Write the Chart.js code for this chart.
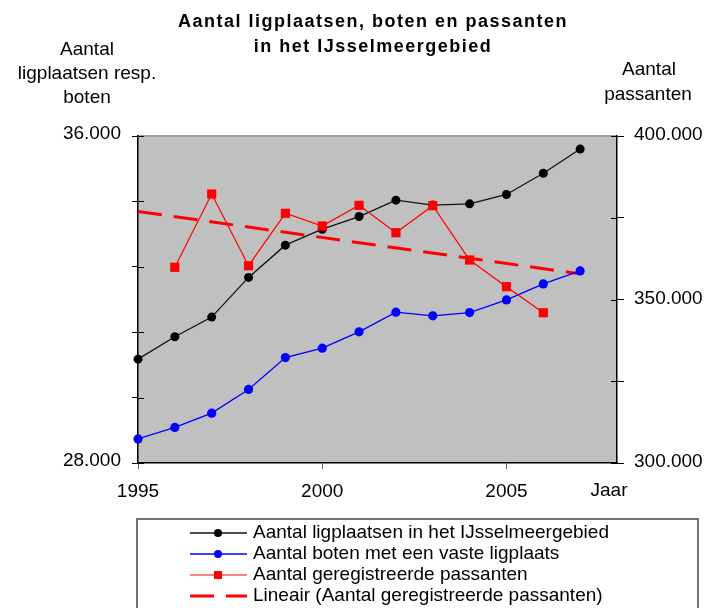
<!DOCTYPE html>
<html lang="nl">
<head>
<meta charset="utf-8">
<title>Aantal ligplaatsen, boten en passanten in het IJsselmeergebied</title>
<script src="https://cdn.jsdelivr.net/npm/chart.js@4.4.1/dist/chart.umd.min.js"></script>
<style>
  html, body { margin: 0; padding: 0; background: #fff; }
  canvas { display: block; }
</style>
</head>
<body>
<canvas id="chart" width="707" height="608"></canvas>
<script>
/* ─── Data ─── */
const years = [1995, 1996, 1997, 1998, 1999, 2000, 2001, 2002, 2003, 2004, 2005, 2006, 2007];
const ligplaatsen = [30540, 31090, 31570, 32540, 33330, 33720, 34030, 34430, 34310, 34340, 34570, 35090, 35680];
const boten = [28590, 28870, 29220, 29800, 30580, 30810, 31210, 31690, 31600, 31680, 31990, 32380, 32700];
const passantYears = [1996, 1997, 1998, 1999, 2000, 2001, 2002, 2003, 2004, 2005, 2006];
const passanten = [359850, 382260, 360340, 376360, 372480, 378800, 370430, 378690, 362080, 353920, 345960];
const trendYears = [1995, 2007];

const yearTicks = [1995, 2000, 2005];
const leftLabels = [28000, 36000];
const rightLabels = [300000, 350000, 400000];

const seriesNames = [
  'Aantal ligplaatsen in het IJsselmeergebied',
  'Aantal boten met een vaste ligplaats',
  'Aantal geregistreerde passanten',
  'Lineair (Aantal geregistreerde passanten)',
];

/* ─── Helpers ─── */
const FONT = "'Liberation Sans', Arial, sans-serif";

function dotted(v) {
  return String(Math.round(v)).replace(/\B(?=(\d{3})+(?!\d))/g, '.');
}

function pairs(xs, ys) {
  return xs.map((x, i) => ({ x, y: ys[i] }));
}

// least squares line through the passanten series, evaluated at the given years
function linearTrend(xs, ys, at) {
  const n = xs.length;
  const mx = xs.reduce((a, b) => a + b, 0) / n;
  const my = ys.reduce((a, b) => a + b, 0) / n;
  let sxy = 0, sxx = 0;
  xs.forEach((x, i) => {
    sxy += (x - mx) * (ys[i] - my);
    sxx += (x - mx) * (x - mx);
  });
  const slope = sxy / sxx;
  return at.map(x => ({ x, y: my + slope * (x - mx) }));
}

/* ─── Plot background + top border ─── */
const plotBackground = {
  id: 'plotBackground',
  beforeDraw(chart) {
    const { ctx, chartArea: a } = chart;
    ctx.save();
    ctx.fillStyle = '#fff';
    ctx.fillRect(0, 0, chart.width, chart.height);
    ctx.fillStyle = '#c0c0c0';
    ctx.fillRect(a.left, a.top, a.right - a.left, a.bottom - a.top);
    ctx.strokeStyle = '#a0a0a0';
    ctx.lineWidth = 2;
    ctx.beginPath();
    ctx.moveTo(a.left, a.top);
    ctx.lineTo(a.right, a.top);
    ctx.stroke();
    ctx.restore();
  },
};

/* ─── Titles, inner tick halves, legend box ─── */
const decorations = {
  id: 'decorations',
  afterDraw(chart) {
    const { ctx, chartArea: a, scales } = chart;
    ctx.save();

    // tick marks cross the value axes
    ctx.strokeStyle = '#000';
    ctx.lineWidth = 1;
    scales.yL.ticks.forEach(t => {
      const y = Math.round(scales.yL.getPixelForValue(t.value)) + 0.5;
      ctx.beginPath();
      ctx.moveTo(a.left, y);
      ctx.lineTo(a.left + 6, y);
      ctx.stroke();
    });
    scales.yR.ticks.forEach(t => {
      const y = Math.round(scales.yR.getPixelForValue(t.value)) + 0.5;
      ctx.beginPath();
      ctx.moveTo(a.right - 6, y);
      ctx.lineTo(a.right, y);
      ctx.stroke();
    });

    ctx.fillStyle = '#000';
    ctx.textBaseline = 'middle';
    ctx.textAlign = 'center';

    // chart title
    ctx.font = 'bold 18px ' + FONT;
    ctx.letterSpacing = '1.5px';
    ctx.fillText('Aantal ligplaatsen, boten en passanten', 373, 22);
    ctx.fillText('in het IJsselmeergebied', 373, 47);
    ctx.letterSpacing = '0px';

    // axis titles
    ctx.font = '19px ' + FONT;
    ctx.fillText('Aantal', 87, 50);
    ctx.fillText('ligplaatsen resp.', 87, 74);
    ctx.fillText('boten', 87, 98);
    ctx.fillText('Aantal', 649, 70);
    ctx.fillText('passanten', 648, 95);
    ctx.fillText('Jaar', 609, a.bottom + 28);

    // legend
    const box = { x: 137, y: 519, w: 561, h: 100 };
    ctx.fillStyle = '#fff';
    ctx.fillRect(box.x, box.y, box.w, box.h);
    ctx.strokeStyle = '#444';
    ctx.lineWidth = 1.5;
    ctx.strokeRect(box.x, box.y, box.w, box.h);

    const x0 = 190, x1 = 247, xm = 218;
    chart.data.datasets.slice().sort((p, q) => p.legendIndex - q.legendIndex).forEach((ds, i) => {
      const y = 533 + i * 21;
      ctx.strokeStyle = ds.borderColor;
      ctx.lineWidth = ds.borderWidth;
      ctx.setLineDash(ds.borderDash || []);
      ctx.beginPath();
      ctx.moveTo(x0, y);
      ctx.lineTo(x1, y);
      ctx.stroke();
      ctx.setLineDash([]);
      if (ds.pointRadius > 0) {
        ctx.fillStyle = ds.pointBackgroundColor;
        if (ds.pointStyle === 'rect') {
          const s = 4;
          ctx.fillRect(xm - s, y - s, s * 2, s * 2);
        } else {
          ctx.beginPath();
          ctx.arc(xm, y, 4, 0, Math.PI * 2);
          ctx.fill();
        }
      }
      ctx.fillStyle = '#000';
      ctx.textAlign = 'left';
      ctx.font = '19px ' + FONT;
      ctx.fillText(seriesNames[ds.legendIndex], 253, y);
    });

    ctx.restore();
  },
};

/* ─── Chart ─── */
const tickFont = { family: FONT, size: 19 };

new Chart(document.getElementById('chart'), {
  type: 'line',
  data: {
    datasets: [
      {
        legendIndex: 2,
        data: pairs(passantYears, passanten),
        yAxisID: 'yR',
        borderColor: '#ff0000',
        borderWidth: 1.2,
        pointStyle: 'rect',
        pointRadius: 6.5,
        pointBackgroundColor: '#ff0000',
        pointBorderWidth: 0,
      },
      {
        legendIndex: 1,
        data: pairs(years, boten),
        yAxisID: 'yL',
        borderColor: '#0000ff',
        borderWidth: 1.3,
        pointStyle: 'circle',
        pointRadius: 4.6,
        pointBackgroundColor: '#0000ff',
        pointBorderWidth: 0,
      },
      {
        legendIndex: 0,
        data: pairs(years, ligplaatsen),
        yAxisID: 'yL',
        borderColor: '#111',
        borderWidth: 1.3,
        pointStyle: 'circle',
        pointRadius: 4.5,
        pointBackgroundColor: '#000',
        pointBorderWidth: 0,
      },
      {
        legendIndex: 3,
        data: linearTrend(passantYears, passanten, trendYears),
        yAxisID: 'yR',
        borderColor: '#ff0000',
        borderWidth: 3,
        borderDash: [24, 12],
        pointRadius: 0,
      },
    ],
  },
  options: {
    responsive: false,
    animation: false,
    events: [],
    clip: false,
    layout: { autoPadding: false, padding: { top: 136, left: 0, right: 0, bottom: 0 } },
    elements: { line: { tension: 0 } },
    plugins: {
      legend: { display: false },
      tooltip: { enabled: false },
      title: { display: false },
    },
    scales: {
      x: {
        type: 'linear',
        min: 1995,
        max: 2008,
        afterBuildTicks: s => { s.ticks = yearTicks.map(v => ({ value: v })); },
        afterFit: s => { s.height = 145; },
        ticks: {
          font: tickFont,
          color: '#000',
          padding: 11,
          autoSkip: false,
          maxRotation: 0,
          callback: v => String(v),
        },
        grid: { drawOnChartArea: false, drawTicks: true, tickLength: 6, color: '#555' },
        border: { color: '#000', width: 1.5 },
      },
      yL: {
        type: 'linear',
        position: 'left',
        min: 28000,
        max: 36000,
        afterFit: s => { s.width = 138; },
        ticks: {
          stepSize: 1600,
          autoSkip: false,
          font: tickFont,
          color: '#000',
          padding: 11,
          labelOffset: -2,
          callback: v => leftLabels.includes(v) ? dotted(v) : '',
        },
        grid: { drawOnChartArea: false, drawTicks: true, tickLength: 6, color: '#000' },
        border: { color: '#000', width: 1.5 },
      },
      yR: {
        type: 'linear',
        position: 'right',
        min: 300000,
        max: 400000,
        afterFit: s => { s.width = 90; },
        ticks: {
          stepSize: 25000,
          autoSkip: false,
          font: tickFont,
          color: '#000',
          padding: 10,
          labelOffset: -1,
          callback: v => rightLabels.includes(v) ? dotted(v) : '',
        },
        grid: { drawOnChartArea: false, drawTicks: true, tickLength: 7, color: '#000' },
        border: { color: '#000', width: 1.5 },
      },
    },
  },
  plugins: [plotBackground, decorations],
});
</script>
</body>
</html>
